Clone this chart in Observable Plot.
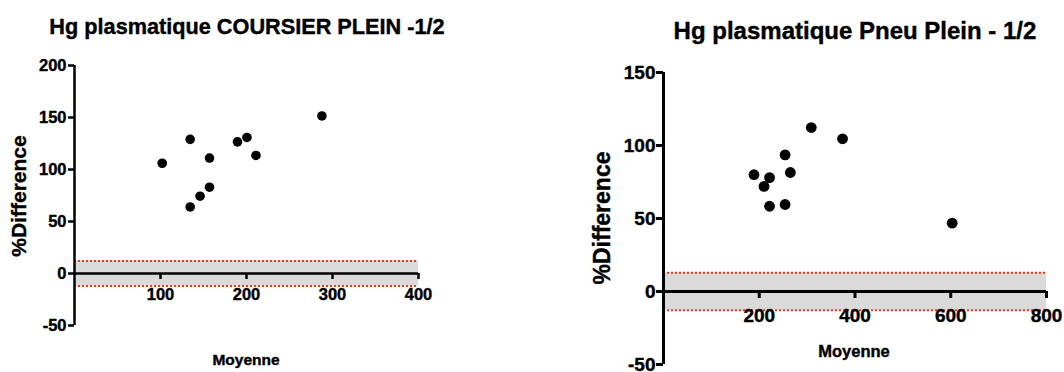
<!DOCTYPE html>
<html>
<head>
<meta charset="utf-8">
<script src="https://cdn.jsdelivr.net/npm/d3@7"></script>
<script src="https://cdn.jsdelivr.net/npm/@observablehq/plot@0.6"></script>
<style>
  html, body { margin: 0; padding: 0; background: #fff; }
  #root { position: relative; width: 1064px; height: 372px; overflow: hidden; font-family: "Liberation Sans", Arial, sans-serif; font-weight: bold; color: #000; }
  .abs { position: absolute; white-space: nowrap; line-height: 1; -webkit-text-stroke: 0.4px #000; }
  .plot { position: absolute; top: 0; }
  .plot text { font-weight: bold; stroke: #000; stroke-width: 0.4px; }
</style>
</head>
<body>
<div id="root"></div>
<script>
// ---- Data ----
const leftTitle = "Hg plasmatique COURSIER PLEIN -1/2";
const rightTitle = "Hg plasmatique Pneu Plein - 1/2";
const xLabel = "Moyenne";
const yLabel = "%Difference";

const leftMoyenne = [102, 134.5, 134.5, 146, 157, 157, 189.5, 200.5, 211, 287.7];
const leftDiff    = [106, 129, 64, 74.3, 111, 83, 126.6, 130.8, 113.5, 151.5];
const leftXTicks = [100, 200, 300, 400];
const leftYTicks = [-50, 0, 50, 100, 150, 200];
const leftXDomain = [0, 400];
const leftYDomain = [-50, 200];
const leftLimits = [-12, 12];

const rightMoyenne = [189, 210, 221.5, 221.5, 254, 254, 265, 308.7, 374, 603];
const rightDiff    = [80, 72, 78, 58.4, 93.6, 59.6, 81.5, 112.3, 104.6, 46.8];
const rightXTicks = [200, 400, 600, 800];
const rightYTicks = [-50, 0, 50, 100, 150];
const rightXDomain = [0, 800];
const rightYDomain = [-50, 150];
const rightLimits = [-12.8, 12.8];

const bandFill = "#dadada";
const limitColor = "#ff3010";

function makePlot(cfg) {
  const pts = cfg.xs.map((x, i) => ({x, y: cfg.ys[i]}));
  const band = [{x1: cfg.xDomain[0], x2: cfg.xDomain[1], y1: cfg.limits[0], y2: cfg.limits[1]}];
  return Plot.plot({
    width: cfg.width,
    height: 372,
    marginLeft: cfg.ml,
    marginRight: cfg.mr,
    marginTop: cfg.mt,
    marginBottom: cfg.mb,
    x: {domain: cfg.xDomain, axis: null},
    y: {domain: cfg.yDomain, axis: null},
    style: {fontFamily: "'Liberation Sans', Arial, sans-serif", fontWeight: "bold", fontSize: cfg.fs + "px", color: "#000", background: "transparent", overflow: "visible"},
    marks: [
      Plot.rect(band, {x1: "x1", x2: "x2", y1: "y1", y2: "y2", fill: bandFill}),
      Plot.ruleY(cfg.limits, {stroke: limitColor, strokeWidth: 2, strokeDasharray: "2,2"}),
      Plot.ruleX([cfg.xDomain[0]], {stroke: "#000", strokeWidth: cfg.sw}),
      Plot.ruleY([0], {stroke: "#000", strokeWidth: cfg.sw}),
      Plot.axisY({ticks: cfg.yTicks, tickSize: cfg.ts, tickPadding: cfg.tp, strokeWidth: cfg.sw, label: null, fontWeight: "bold", fontSize: cfg.fs, tickFormat: d => String(d)}),
      Plot.ruleX(cfg.xTicks, {y1: () => 0, y2: () => 0, insetBottom: -cfg.ts, stroke: "#000", strokeWidth: cfg.sw}),
      Plot.text(cfg.xTicks, {x: d => d, y: () => 0, dy: cfg.xdy, text: d => String(d), fill: "#000", fontWeight: "bold", fontSize: cfg.fs}),
      Plot.dot(pts, {x: "x", y: "y", r: cfg.r, fill: "#000", stroke: "none"})
    ]
  });
}

const root = document.getElementById("root");

const left = makePlot({
  xs: leftMoyenne, ys: leftDiff, xTicks: leftXTicks, yTicks: leftYTicks,
  xDomain: leftXDomain, yDomain: leftYDomain, limits: leftLimits,
  width: 450, ml: 74, mr: 32, mt: 65, mb: 47, fs: 16.5, sw: 2.5, ts: 6, tp: 2, xdy: 21, r: 4.8
});
left.classList.add("plot");
left.style.left = "0px";
root.appendChild(left);

const right = makePlot({
  xs: rightMoyenne, ys: rightDiff, xTicks: rightXTicks, yTicks: rightYTicks,
  xDomain: rightXDomain, yDomain: rightYDomain, limits: rightLimits,
  width: 504, ml: 103, mr: 18, mt: 72, mb: 8, fs: 19, sw: 3, ts: 7, tp: 1, xdy: 24, r: 5.4
});
right.classList.add("plot");
right.style.left = "560px";
root.appendChild(right);

function addText(txt, cx, baseline, fs) {
  const d = document.createElement("div");
  d.className = "abs";
  d.textContent = txt;
  d.style.fontSize = fs + "px";
  d.style.left = cx + "px";
  d.style.top = (baseline - 0.847 * fs) + "px";
  d.style.transform = "translateX(-50%)";
  root.appendChild(d);
}
function addVText(txt, cx, cy, fs) {
  const d = document.createElement("div");
  d.className = "abs";
  d.textContent = txt;
  d.style.fontSize = fs + "px";
  d.style.left = cx + "px";
  d.style.top = cy + "px";
  d.style.transform = "translate(-50%, -50%) rotate(-90deg)";
  root.appendChild(d);
}

addText(leftTitle, 247, 34, 21.7);
addText(rightTitle, 855, 39.3, 24);
addText(xLabel, 246, 365, 15.5);
addText(xLabel, 854, 356.7, 16.5);
addVText(yLabel, 18, 196, 21);
addVText(yLabel, 601.5, 218, 23);
</script>
</body>
</html>
